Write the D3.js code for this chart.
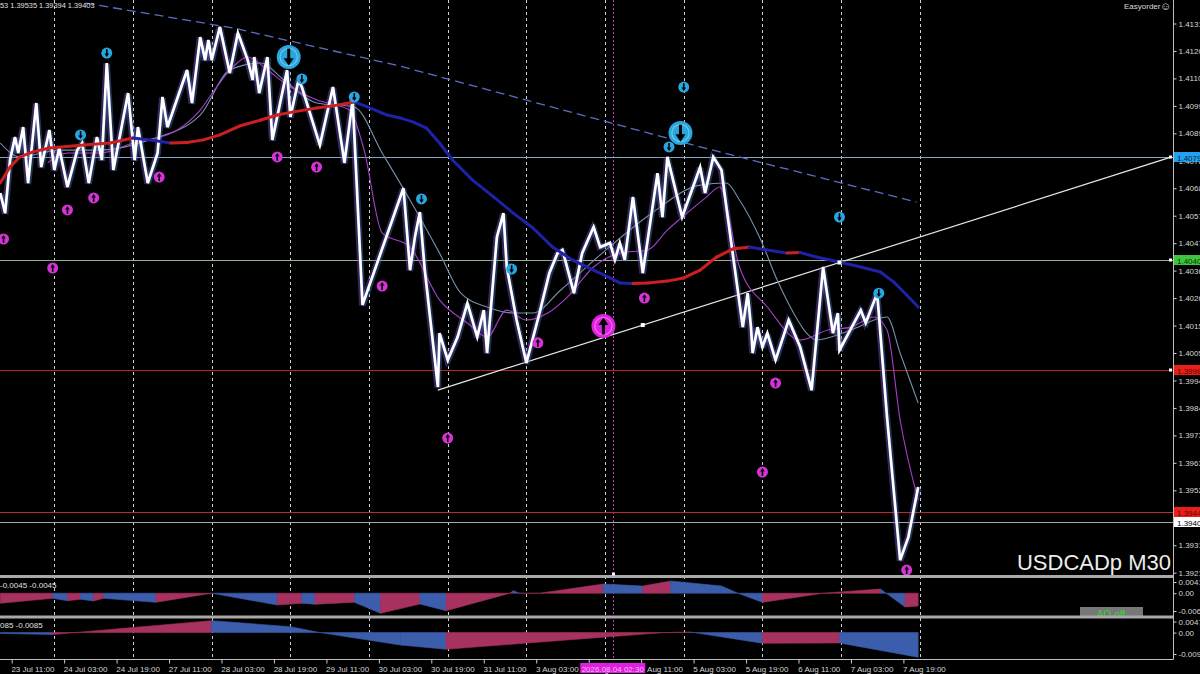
<!DOCTYPE html>
<html><head><meta charset="utf-8">
<script src="https://cdn.jsdelivr.net/npm/d3@7"></script>
<style>body{margin:0;background:#000;overflow:hidden}svg{display:block}text{font-family:"Liberation Sans",Arial,sans-serif}</style>
</head><body><svg id="c" width="1200" height="674"></svg>
<script>
// ---------------- DATA ----------------
const timeIdx = [0,32,64,96,128,160,192,224,256,288,320,352,384,416,448,480,512,544];
const timeLabels = ["23 Jul 11:00","24 Jul 03:00","24 Jul 19:00","27 Jul 11:00","28 Jul 03:00","28 Jul 19:00","29 Jul 11:00","30 Jul 03:00","30 Jul 19:00","31 Jul 11:00","3 Aug 03:00","3 Aug 19:00","4 Aug 11:00","5 Aug 03:00","5 Aug 19:00","6 Aug 11:00","7 Aug 03:00","7 Aug 19:00"];
const daySepIdx = [26,74,122,170,218,266,314,362,410,458,506,554];
const cursorIdx = 367;
const cursorLabel = "2026.08.04 02:30";

const priceTicks = [1.39210,1.39315,1.39420,1.39525,1.39630,1.39735,1.39840,1.39945,1.40050,1.40155,1.40260,1.40365,1.40470,1.40575,1.40680,1.40785,1.40890,1.40995,1.41100,1.41205,1.41310];
const priceTickLabels = ["1.3921","1.3931","1.3942","1.3952","1.3963","1.3973","1.3984","1.3994","1.4005","1.4015","1.4026","1.4036","1.4047","1.4057","1.4068","1.4078","1.4089","1.4099","1.4110","1.4120","1.4131"];

// white zigzag of closes
const zzIdx = [-7,-4,-1,2,4,7,10,15,18,23,26,29,34,40,43,47,52,55,58,62,71,75,77,83,89,92,95,107,110,115,118,120,122,127,133,138,144,147,148,151,156,159,168,170,175,177,188,196,203,208,214,239,243,246,249,252,260,261,266,272,278,284,288,290,296,300,302,308,314,322,328,333,336,343,348,355,359,365,368,371,374,379,385,394,397,400,409,420,423,428,433,436,446,449,451,452,455,458,461,466,474,481,488,495,501,504,505,518,521,528,534,542,547,553];
const zzPrice = [1.40662,1.40585,1.40788,1.40876,1.40815,1.40914,1.40700,1.41006,1.40761,1.40903,1.40750,1.40834,1.40685,1.40826,1.40853,1.40700,1.40876,1.40788,1.41159,1.40750,1.41044,1.40788,1.40914,1.40700,1.40815,1.41029,1.40914,1.41132,1.41006,1.41258,1.41170,1.41247,1.41170,1.41297,1.41121,1.41274,1.41170,1.41094,1.41182,1.41044,1.41182,1.40865,1.41132,1.40953,1.41094,1.41067,1.40845,1.41067,1.40777,1.41018,1.40234,1.40681,1.40367,1.40494,1.40589,1.40367,1.39920,1.40126,1.40023,1.40111,1.40241,1.40111,1.40214,1.40050,1.40494,1.40585,1.40379,1.40176,1.40012,1.40203,1.40356,1.40432,1.40444,1.40279,1.40432,1.40532,1.40455,1.40471,1.40406,1.40471,1.40406,1.40647,1.40356,1.40738,1.40570,1.40800,1.40570,1.40761,1.40662,1.40800,1.40750,1.40608,1.40149,1.40279,1.40149,1.40050,1.40149,1.40073,1.40126,1.40023,1.40176,1.40073,1.39908,1.40379,1.40126,1.40203,1.40061,1.40214,1.40165,1.40279,1.39805,1.39258,1.39346,1.39538];

// slow MA (red rising / blue falling)
const slowIdx = [-7,-1,5,13,23,44,60,74,84,97,107,117,127,139,152,162,172,186,196,209,217,229,237,245,253,261,269,281,294,306,318,330,342,355,365,371,379,388,400,410,420,430,440,450,461,473,481,491,505,518,530,538,546,553];
const slowPrice = [1.40700,1.40761,1.40800,1.40819,1.40834,1.40845,1.40853,1.40872,1.40865,1.40853,1.40855,1.40865,1.40884,1.40918,1.40941,1.40960,1.40972,1.40987,1.40995,1.41010,1.40991,1.40960,1.40949,1.40933,1.40910,1.40853,1.40788,1.40712,1.40647,1.40585,1.40528,1.40455,1.40406,1.40367,1.40337,1.40318,1.40316,1.40318,1.40325,1.40337,1.40367,1.40417,1.40448,1.40455,1.40444,1.40432,1.40434,1.40417,1.40398,1.40379,1.40360,1.40322,1.40272,1.40226];

// fast MA (violet)
const fastIdx = [22,34,54,74,91,101,115,125,135,144,156,170,186,206,215,226,243,261,278,290,302,314,327,339,355,371,388,400,412,424,432,444,461,481,498,512,526,534,542,553];
const fastPrice = [1.40777,1.40815,1.40815,1.40853,1.40876,1.40903,1.40979,1.41067,1.41144,1.41182,1.41132,1.41067,1.41018,1.40979,1.40826,1.40509,1.40455,1.40253,1.40165,1.40111,1.40214,1.40176,1.40203,1.40264,1.40379,1.40432,1.40444,1.40520,1.40585,1.40647,1.40685,1.40379,1.40226,1.40100,1.40138,1.40149,1.40188,1.40138,1.39794,1.39488];

// medium MA (grey-blue)
const midIdx = [-7,5,29,54,84,115,133,152,166,186,209,226,243,261,274,290,306,318,335,359,389,420,436,444,457,467,475,485,491,512,534,542,553];
const midPrice = [1.40853,1.40800,1.40826,1.40826,1.40865,1.40960,1.41132,1.41159,1.41094,1.41006,1.40991,1.40815,1.40635,1.40432,1.40279,1.40226,1.40203,1.40203,1.40291,1.40425,1.40578,1.40692,1.40700,1.40635,1.40482,1.40329,1.40226,1.40126,1.40100,1.40138,1.40188,1.40050,1.39859];

// long dashed line
const longIdx = [45,135,237,420,552];
const longPrice = [1.41388,1.41293,1.41147,1.40838,1.40627];

// trend line anchors (ray)
const trendIdx = [260,385];
const trendPrice = [1.39908,1.40157];
const trendMarkIdx = [385,505];

// horizontal levels
const levels = [1.40799,1.40405,1.39984,1.39442,1.39403];
const levelLine = ["#7fa9c6","#8fb38f","#b42424","#c02a2a","#a8a8a8"];
const levelBox  = ["#22a2ee","#3fc43f","#e62019","#e62019","#ffffff"];
const levelText = ["#05233d","#053805","#6a0000","#6a0000","#000000"];

// arrow signals
const upSigIdx = [58,42,177,209,250,305,410,401,505,529];
const upSigPrice = [1.41197,1.40884,1.41098,1.41029,1.40639,1.40371,1.41067,1.40838,1.40570,1.40279];
const dnSigIdx = [-5,25,34,50,90,162,186,226,266,321,386,466,458,546];
const dnSigPrice = [1.40486,1.40375,1.40597,1.40643,1.40723,1.40800,1.40761,1.40306,1.39725,1.40089,1.40260,1.39935,1.39595,1.39220];
const bigUpSigIdx = [169,408];
const bigUpSigPrice = [1.41182,1.40891];
const bigDnSigIdx = [361];
const bigDnSigPrice = [1.40153];

// oscillator 1
const osc1Idx = [-7,25,34,42,50,56,88,122,162,177,185,209,225,249,265,304,306,310,322,361,385,402,433,443,458,481,495,530,545,553];
const osc1Val = [-0.00369,-0.00186,-0.00274,-0.00223,-0.00285,-0.00186,-0.00333,0,-0.00431,-0.00369,-0.00406,-0.00333,-0.00735,-0.00395,-0.00640,0,0.00091,0,0,0.00336,0.00263,0.00446,0.00263,0,-0.00333,-0.00128,0,0.00154,-0.00504,-0.00468];
const osc1Ticks = [0.0041,0,-0.0065];
const osc1TickLabels = ["0.0041","0.00","-0.0065"];
// oscillator 2
const osc2Idx = [-7,25,122,170,188,237,265,398,414,458,505,553];
const osc2Val = [-0.00038,-0.00081,0.00505,0.00251,0,-0.00527,-0.00709,0,0.00025,-0.00454,-0.00442,-0.01049];
const osc2Ticks = [0.0047,0,-0.0091];
const osc2TickLabels = ["0.0047","0.00","-0.0091"];

const headerText = "53 1.39535 1.39394 1.39403";
const osc1Header = "-0.0045 -0.0045";
const osc2Header = "085 -0.0085";
const symbolTitle = "USDCADp M30";

// ---------------- LAYOUT ----------------
const svg = d3.select("#c");
const AX = 1173;            // right axis x
const MAIN_B = 575, AXIS_Y = 659;
svg.append("rect").attr("width",1200).attr("height",674).attr("fill","#000");

const x = d3.scaleLinear().domain([0,544]).range([11.7,903.4]);
const y = d3.scaleLinear().domain([1.39210,1.41310]).range([572.7,23.5]);
const y1 = d3.scaleLinear().domain([-0.0065,0.0041]).range([611,582]);
const y2 = d3.scaleLinear().domain([-0.0091,0.0047]).range([654,621.5]);

const defs = svg.append("defs");
defs.append("clipPath").attr("id","cm").append("rect").attr("x",0).attr("y",0).attr("width",AX).attr("height",MAIN_B);
defs.append("clipPath").attr("id","c1").append("rect").attr("x",0).attr("y",578).attr("width",AX).attr("height",38);
defs.append("clipPath").attr("id","c2").append("rect").attr("x",0).attr("y",619).attr("width",AX).attr("height",40);

// day separators
svg.append("g").selectAll("line").data(daySepIdx).join("line")
  .attr("x1",d=>Math.round(x(d))+0.5).attr("x2",d=>Math.round(x(d))+0.5)
  .attr("y1",0).attr("y2",AXIS_Y)
  .attr("stroke","#d0d0d0").attr("stroke-width",1).attr("stroke-dasharray","3,3");
// cursor line
svg.append("line").attr("x1",Math.round(x(cursorIdx))+0.5).attr("x2",Math.round(x(cursorIdx))+0.5)
  .attr("y1",0).attr("y2",AXIS_Y).attr("stroke","#c23cc2").attr("stroke-width",1).attr("stroke-dasharray","2,2");

const main = svg.append("g").attr("clip-path","url(#cm)");
const line = d3.line().x(d=>x(d[0])).y(d=>y(d[1]));
const smooth = d3.line().x(d=>x(d[0])).y(d=>y(d[1])).curve(d3.curveMonotoneX);

// horizontal levels
main.selectAll("line.lv").data(levels).join("line").attr("class","lv")
  .attr("x1",0).attr("x2",AX).attr("y1",d=>Math.round(y(d))+0.5).attr("y2",d=>Math.round(y(d))+0.5)
  .attr("stroke",(d,i)=>levelLine[i]).attr("stroke-width",1);

// long dashed line
main.append("path").attr("d",line(d3.zip(longIdx,longPrice)))
  .attr("fill","none").attr("stroke","#5a6fc4").attr("stroke-width",1.3).attr("stroke-dasharray","9,5");

// trend ray
const tSlope = (trendPrice[1]-trendPrice[0])/(trendIdx[1]-trendIdx[0]);
const tEnd = x.invert(AX-2);
const trendPts = [[trendIdx[0],trendPrice[0]],[tEnd,trendPrice[0]+tSlope*(tEnd-trendIdx[0])]];
main.append("path").attr("d",line(trendPts)).attr("fill","none").attr("stroke","#e8e8e8").attr("stroke-width",1.2);

// medium MA
main.append("path").attr("d",smooth(d3.zip(midIdx,midPrice)))
  .attr("fill","none").attr("stroke","#7591ad").attr("stroke-width",1.1);

// zigzag halo (bars) + zigzag
const zz = d3.zip(zzIdx,zzPrice);
main.append("path").attr("d",line(zz)).attr("fill","none").attr("stroke","#6d55c8").attr("stroke-opacity",0.45)
  .attr("stroke-width",5).attr("stroke-linejoin","miter").attr("stroke-miterlimit",3).attr("transform","translate(-1,0.5)");
main.append("path").attr("d",line(zz)).attr("fill","none").attr("stroke","#4a7bd0").attr("stroke-opacity",0.4)
  .attr("stroke-width",3.5).attr("transform","translate(1.5,1)").attr("stroke-linejoin","miter").attr("stroke-miterlimit",3);

// fast MA
main.append("path").attr("d",smooth(d3.zip(fastIdx,fastPrice)))
  .attr("fill","none").attr("stroke","#a540c8").attr("stroke-width",1.1);

main.append("path").attr("d",line(zz)).attr("fill","none").attr("stroke","#ffffff")
  .attr("stroke-width",2.7).attr("stroke-linejoin","miter").attr("stroke-miterlimit",4);

// slow MA colored by slope
const slow = d3.zip(slowIdx,slowPrice);
for(let i=0;i<slow.length-1;i++){
  const up = slow[i+1][1] >= slow[i][1];
  main.append("path").attr("d",line([slow[i],slow[i+1]])).attr("fill","none")
    .attr("stroke", up ? "#cc2020" : "#1e22a6").attr("stroke-width",3).attr("stroke-linecap","round");
}

// trend markers
main.selectAll("rect.tm").data(trendMarkIdx).join("rect").attr("class","tm")
  .attr("x",d=>x(d)-2).attr("y",d=>y(trendPrice[0]+tSlope*(d-trendIdx[0]))-2).attr("width",4).attr("height",4).attr("fill","#fff");

// signal markers
function sig(g,cx,cy,r,col,down){
  const s = g.append("g").attr("transform",`translate(${cx},${cy})`);
  s.append("circle").attr("r",r).attr("fill",col);
  if(r>8) s.append("circle").attr("r",r*0.72).attr("fill","none").attr("stroke","#ffffff").attr("stroke-opacity",0.35).attr("stroke-width",1.2);
  const d = down?1:-1;
  s.append("line").attr("x1",0).attr("x2",0).attr("y1",-d*r*0.7).attr("y2",d*r*0.25).attr("stroke","#000").attr("stroke-width",r>8?3:1.6);
  s.append("path").attr("d",`M${-r*0.42},${d*r*0.1} L0,${d*r*0.72} L${r*0.42},${d*r*0.1} Z`).attr("fill","#000");
}
const sg = main.append("g");
upSigIdx.forEach((d,i)=>sig(sg,x(d),y(upSigPrice[i]),5.5,"#27a6e0",true));
dnSigIdx.forEach((d,i)=>sig(sg,x(d),y(dnSigPrice[i]),5.5,"#d633d6",false));
bigUpSigIdx.forEach((d,i)=>sig(sg,x(d),y(bigUpSigPrice[i]),12,"#27a6e0",true));
bigDnSigIdx.forEach((d,i)=>sig(sg,x(d),y(bigDnSigPrice[i]),12,"#e020e0",false));

// ---------------- OSCILLATORS ----------------
function osc(clip,ys,idx,val){
  const g = svg.append("g").attr("clip-path",`url(#${clip})`);
  const pts = d3.zip(idx,val);
  const area = d3.area().x(d=>x(d[0])).y0(ys(0)).y1(d=>ys(d[1]));
  for(let i=0;i<pts.length-1;i++){
    const up = pts[i+1][1] >= pts[i][1];
    const c = up ? "#a8325f" : "#3c5dab";
    g.append("path").attr("d",area([pts[i],pts[i+1]])).attr("fill",c).attr("stroke",c).attr("stroke-width",0.6);
  }
}
osc("c1",y1,osc1Idx,osc1Val);
osc("c2",y2,osc2Idx,osc2Val);

// AO off button
svg.append("rect").attr("x",1080).attr("y",607).attr("width",63).attr("height",10).attr("fill","#787878");
svg.append("text").attr("x",1111).attr("y",618).attr("text-anchor","middle").attr("font-size",10).attr("fill","#35d335").text("AO off");

// separators
svg.append("rect").attr("x",0).attr("y",575).attr("width",AX).attr("height",3).attr("fill","#a9a9a9");
svg.append("rect").attr("x",0).attr("y",615.5).attr("width",AX).attr("height",3).attr("fill","#a9a9a9");
svg.append("rect").attr("x",Math.round(x(cursorIdx))-1).attr("y",572.5).attr("width",3).attr("height",3).attr("fill","#fff");

// ---------------- AXES ----------------
const axR = svg.append("g").attr("transform",`translate(${AX}.5,0)`)
  .call(d3.axisRight(y).tickValues(priceTicks).tickFormat((d,i)=>priceTickLabels[i]).tickSize(3).tickPadding(2));
axR.select(".domain").remove();
axR.selectAll("line").attr("stroke","#cfcfcf");
axR.selectAll("text").attr("fill","#d6d6d6").attr("font-size",8).attr("font-family","Liberation Sans, Arial, sans-serif");

function oscAxis(ys,ticks,labels){
  const a = svg.append("g").attr("transform",`translate(${AX}.5,0)`)
    .call(d3.axisRight(ys).tickValues(ticks).tickFormat((d,i)=>labels[i]).tickSize(3).tickPadding(2));
  a.select(".domain").remove();
  a.selectAll("line").attr("stroke","#cfcfcf");
  a.selectAll("text").attr("fill","#d6d6d6").attr("font-size",8).attr("font-family","Liberation Sans, Arial, sans-serif");
}
oscAxis(y1,osc1Ticks,osc1TickLabels);
oscAxis(y2,osc2Ticks,osc2TickLabels);

// axis frame
svg.append("line").attr("x1",AX+0.5).attr("x2",AX+0.5).attr("y1",0).attr("y2",AXIS_Y+0.5).attr("stroke","#bdbdbd");
svg.append("line").attr("x1",0).attr("x2",AX+0.5).attr("y1",AXIS_Y+0.5).attr("y2",AXIS_Y+0.5).attr("stroke","#bdbdbd");

const axB = svg.append("g").attr("transform",`translate(0,${AXIS_Y}.5)`)
  .call(d3.axisBottom(x).tickValues(timeIdx).tickFormat((d,i)=>timeLabels[i]).tickSize(4).tickPadding(3));
axB.select(".domain").remove();
axB.selectAll("line").attr("stroke","#cfcfcf");
axB.selectAll("text").attr("fill","#d6d6d6").attr("font-size",8).attr("text-anchor","start").attr("dx","-0.1em")
  .attr("font-family","Liberation Sans, Arial, sans-serif");

// cursor time label
const cxp = x(cursorIdx);
svg.append("rect").attr("x",cxp-33).attr("y",663).attr("width",65).attr("height",10).attr("fill","#e01ee0");
svg.append("text").attr("x",cxp-0.5).attr("y",671.5).attr("text-anchor","middle").attr("font-size",8).attr("fill","#ffb8ff").text(cursorLabel);

// level labels
levels.forEach((v,i)=>{
  const yy = Math.round(y(v));
  svg.append("rect").attr("x",AX+1).attr("y",yy-5).attr("width",28).attr("height",10).attr("fill",levelBox[i]);
  svg.append("text").attr("x",AX+4).attr("y",yy+3.5).attr("font-size",8).attr("fill",levelText[i]).text((Math.floor(v*1e4)/1e4).toFixed(4));
  if(i<3) svg.append("rect").attr("x",AX-4).attr("y",yy-1.5).attr("width",3).attr("height",3).attr("fill","#fff");
});

// texts
svg.append("text").attr("x",0).attr("y",8).attr("font-size",7.4).attr("fill","#e0e0e0").text(headerText);
svg.append("text").attr("x",0).attr("y",588).attr("font-size",8).attr("fill","#e0e0e0").text(osc1Header);
svg.append("text").attr("x",0).attr("y",628).attr("font-size",8).attr("fill","#e0e0e0").text(osc2Header);
svg.append("text").attr("x",1124).attr("y",9).attr("font-size",8).attr("fill","#dcdcdc").text("Easyorder");
svg.append("text").attr("x",1160).attr("y",10).attr("font-size",11).attr("fill","#dcdcdc").attr("font-family","DejaVu Sans").text("\u263A");
svg.append("text").attr("x",1171).attr("y",570).attr("text-anchor","end").attr("font-size",22).attr("fill","#ececec").text(symbolTitle);
</script>
</body></html>
